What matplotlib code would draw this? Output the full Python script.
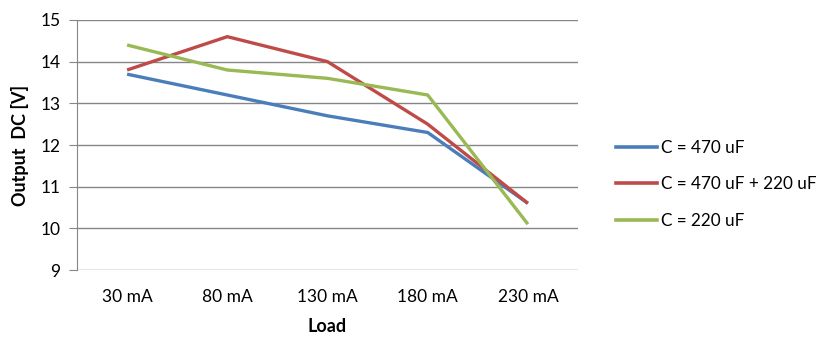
import matplotlib
matplotlib.use("Agg")
import matplotlib.pyplot as plt
from matplotlib.lines import Line2D

loads = ["30 mA", "80 mA", "130 mA", "180 mA", "230 mA"]
c470 = [13.7, 13.2, 12.7, 12.3, 10.6]
c470_220 = [13.8, 14.6, 14.0, 12.5, 10.6]
c220 = [14.4, 13.8, 13.6, 13.2, 10.1]

series = [
    ("C = 470 uF", c470, "#4A7EBB"),
    ("C = 470 uF + 220 uF", c470_220, "#BE4B48"),
    ("C = 220 uF", c220, "#98B954"),
]

plt.rcParams["font.family"] = ["Lato", "DejaVu Sans"]

W, H = 821, 340
fig = plt.figure(figsize=(W / 100, H / 100), dpi=100)
ax = fig.add_axes([77 / W, 1 - 270 / H, (578 - 77) / W, 250 / H])

x = list(range(len(loads)))
for name, vals, col in series:
    ax.plot(x, vals, color=col, lw=2.4, solid_capstyle="butt", solid_joinstyle="miter")

ax.set_xlim(-0.5, len(loads) - 0.5)
ax.set_ylim(9, 15)
ax.set_yticks(range(9, 16))
ax.set_xticks(x)
ax.set_xticklabels(loads)
ax.yaxis.grid(True, color="#868686", lw=1)
ax.set_axisbelow(True)

for s in ("top", "right", "bottom"):
    ax.spines[s].set_visible(False)
ax.spines["left"].set_color("#868686")
ax.tick_params(axis="y", length=6, color="#868686", labelsize=12.5, pad=6)
ax.tick_params(axis="x", length=0, labelsize=12.5, pad=14)

ax.set_ylabel("Output  DC [V]", fontsize=13, fontweight="bold", labelpad=8)
ax.set_xlabel("Load", fontsize=13, fontweight="bold", labelpad=9)

handles = [Line2D([], [], color=c, lw=2.6) for _, _, c in series]
fig.legend(handles, [n for n, _, _ in series], loc="upper left",
           bbox_to_anchor=(609 / W, 1 - 133 / H), frameon=False,
           fontsize=12.3, handlelength=2.4, handletextpad=0.25,
           labelspacing=1.2, borderaxespad=0)

fig.savefig("out.png", dpi=100)
